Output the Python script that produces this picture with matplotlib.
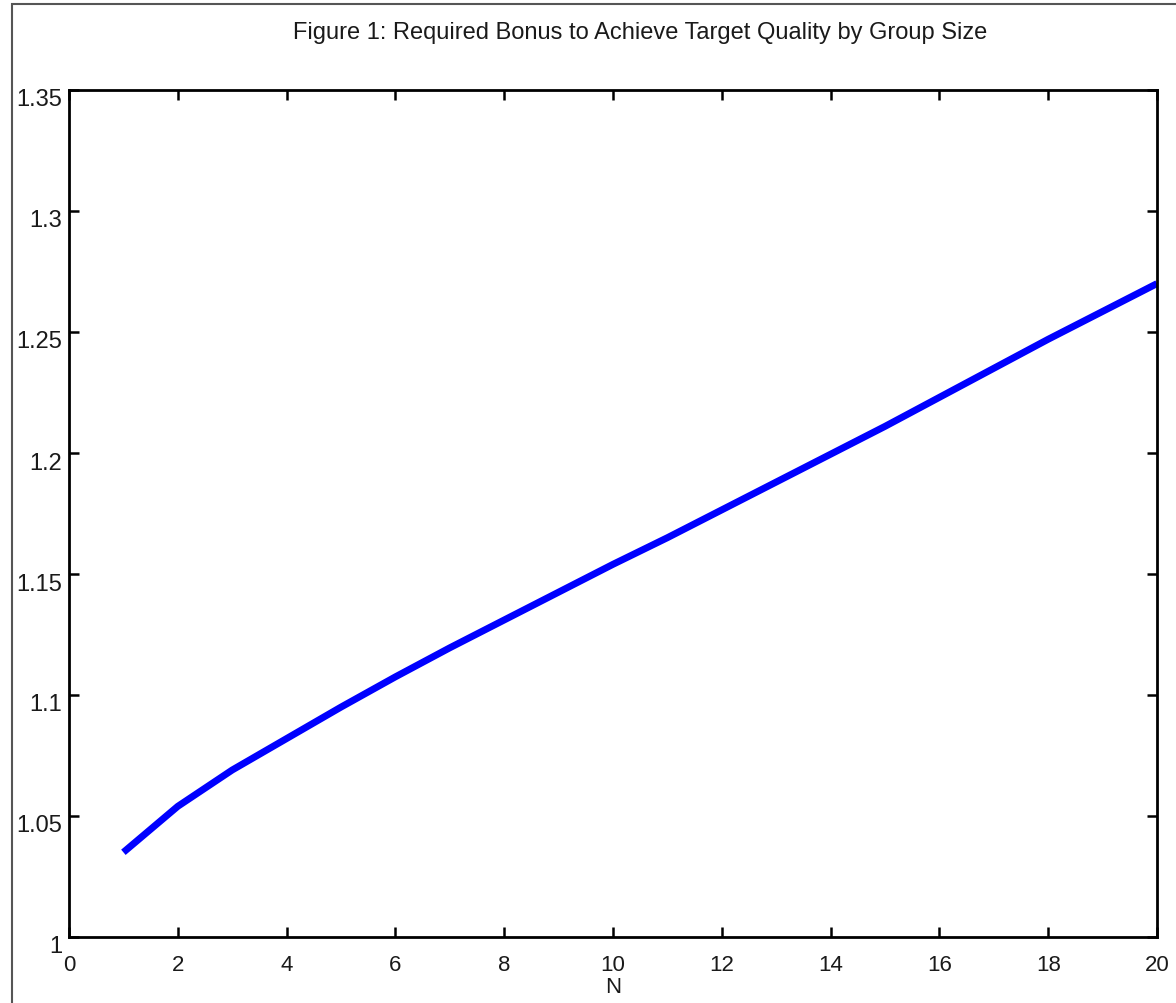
import matplotlib
matplotlib.use("Agg")
import matplotlib.pyplot as plt
import matplotlib.patches as patches
import matplotlib.transforms as mtransforms

#-------------------------------------------------------------------------------
# values
N = [1, 2, 3, 4, 5, 6, 7, 8, 9, 10, 11, 12, 13, 14, 15, 16, 17, 18, 19, 20]
bonus = [1.035, 1.054, 1.069, 1.082, 1.095, 1.1075, 1.1195, 1.131, 1.1425, 1.154,
         1.165, 1.1765, 1.188, 1.1995, 1.211, 1.223, 1.235, 1.247, 1.2585, 1.270]

xticks = [0, 2, 4, 6, 8, 10, 12, 14, 16, 18, 20]
yticks = [1, 1.05, 1.1, 1.15, 1.2, 1.25, 1.3, 1.35]
ytick_labels = ["1", "1.05", "1.1", "1.15", "1.2", "1.25", "1.3", "1.35"]

title = "Figure 1: Required Bonus to Achieve Target Quality by Group Size"

#-------------------------------------------------------------------------------

plt.rcParams['font.family'] = ['Liberation Sans', 'DejaVu Sans']

W, H = 1176, 1004
fig = plt.figure(figsize=(W / 100, H / 100), dpi=100)
fig.patch.set_facecolor('white')

# grey frame of the pasted figure (runs off the right and bottom)
frame = patches.Rectangle((12 / W, -0.1), 1.2, (H - 5) / H + 0.1,
                          transform=fig.transFigure, fill=False,
                          edgecolor='#555555', linewidth=1.5)
fig.patches.append(frame)

ax = fig.add_axes([69 / W, 66 / H, (1157 - 69) / W, (938 - 91) / H])
ax.plot(N, bonus, color='#0000ff', linewidth=5, solid_capstyle='butt',
        solid_joinstyle='round')

ax.set_xlim(0, 20)
ax.set_ylim(1, 1.35)
ax.set_xticks(xticks)
ax.set_yticks(yticks)
ax.set_yticklabels(ytick_labels)

for s in ax.spines.values():
	s.set_linewidth(2)
	s.set_color('black')

ax.tick_params(direction='in', length=7, width=1.8, top=True, right=True,
               colors='black', labelcolor='#1a1a1a')
ax.tick_params(axis='x', labelsize=16, pad=12)
ax.tick_params(axis='y', labelsize=17, pad=5)

# matlab-style y labels sit a bit below their ticks
offset = mtransforms.ScaledTranslation(0, -7 / 100, fig.dpi_scale_trans)
for lab in ax.get_yticklabels():
	lab.set_transform(lab.get_transform() + offset)

ax.set_xlabel("N", fontsize=16, color='#1a1a1a', labelpad=1)

fig.text(640 / W, 1 - 33 / H, title, ha='center', va='center',
         fontsize=17, color='#1a1a1a')

plt.savefig("out.png", dpi=100)
plt.close("all")
